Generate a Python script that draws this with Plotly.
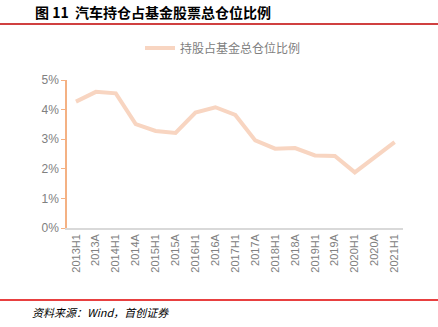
import plotly.graph_objects as go

categories = ["2013H1", "2013A", "2014H1", "2014A", "2015H1", "2015A", "2016H1", "2016A",
              "2017H1", "2017A", "2018H1", "2018A", "2019H1", "2019A", "2020H1", "2020A", "2021H1"]
values = [4.27, 4.60, 4.55, 3.51, 3.28, 3.21, 3.90, 4.08, 3.82, 2.96, 2.68, 2.70, 2.45, 2.43, 1.88, 2.40, 2.90]
series_name = "持股占基金总仓位比例"
title_text = "图 11  汽车持仓占基金股票总仓位比例"
source_text = "资料来源：Wind，首创证券"
y_ticks = [0, 1, 2, 3, 4, 5]
y_tick_labels = ["0%", "1%", "2%", "3%", "4%", "5%"]

cjk = "Noto Sans CJK SC"
gray = "#808080"

fig = go.Figure()
fig.add_trace(go.Scatter(
    x=list(range(len(categories))), y=values, mode="lines", name=series_name,
    line=dict(color="#F8D5C1", width=4),
))

fig.update_layout(
    width=438, height=327,
    margin=dict(l=67, r=35, t=80, b=99),
    paper_bgcolor="white", plot_bgcolor="white",
    showlegend=True,
    legend=dict(x=(140 - 67) / 336, xanchor="left", y=1 + (80 - 48) / 148, yanchor="middle",
                orientation="h",
                font=dict(family=cjk, size=12, color=gray), itemwidth=30,
                bgcolor="rgba(0,0,0,0)"),
    xaxis=dict(
        tickmode="array", tickvals=list(range(len(categories))), ticktext=categories,
        range=[-0.45, 16.42], tickangle=-90, showgrid=False,
        showline=True, linecolor="#D9D9D9", linewidth=1.5, ticks="",
        tickfont=dict(family="Liberation Sans", size=11, color=gray), zeroline=False,
    ),
    yaxis=dict(
        tickmode="array", tickvals=y_ticks, ticktext=y_tick_labels, range=[0, 5],
        showgrid=False, showline=True, linecolor="#F4B183", linewidth=1.5,
        ticks="outside", ticklen=4, tickcolor="#F4B183", zeroline=False,
        tickfont=dict(family="Liberation Sans", size=12, color=gray),
    ),
)

fig.add_annotation(xref="paper", yref="paper", x=(153 - 67) / 336, y=1 + (80 - 12) / 148,
                   xanchor="center", yanchor="middle",
                   text="<b>" + title_text + "</b>", showarrow=False,
                   font=dict(family=cjk, size=14, color="#000000"))
fig.add_annotation(xref="paper", yref="paper", x=(30 - 67) / 336, y=-(312 - 228) / 148,
                   xanchor="left", yanchor="middle",
                   text="<i>" + source_text + "</i>", showarrow=False,
                   font=dict(family=cjk, size=11, color="#000000"))

# red rule lines
fig.add_shape(type="line", xref="paper", yref="paper", x0=-67 / 336, x1=1 + 35 / 336,
              y0=1 + (80 - 24) / 148, y1=1 + (80 - 24) / 148, line=dict(color="#C00000", width=1.5))
fig.add_shape(type="line", xref="paper", yref="paper", x0=-67 / 336, x1=1 + 35 / 336,
              y0=-(300 - 228) / 148, y1=-(300 - 228) / 148, line=dict(color="#E00000", width=1.5))

fig.write_html("out.html")
